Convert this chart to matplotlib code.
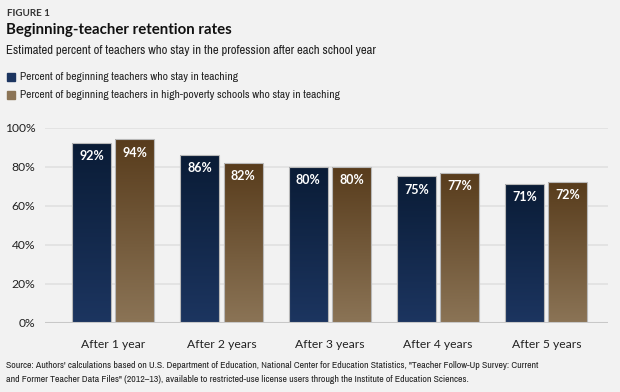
import numpy as np
import matplotlib.pyplot as plt
from matplotlib.colors import LinearSegmentedColormap
from matplotlib.patches import Rectangle

plt.rcParams['font.family'] = ['Lato', 'DejaVu Sans']
narrow = ['Archivo Narrow', 'Lato', 'DejaVu Sans']

# data
years = ["After 1 year", "After 2 years", "After 3 years", "After 4 years", "After 5 years"]
all_teachers = [92, 86, 80, 75, 71]
high_poverty = [94, 82, 80, 77, 72]
series_names = ["Percent of beginning teachers who stay in teaching",
                "Percent of beginning teachers in high-poverty schools who stay in teaching"]

bg = "#f2f2f2"
navy_cmap = LinearSegmentedColormap.from_list("navy", ["#1c3560", "#0a1c36"])
brown_cmap = LinearSegmentedColormap.from_list("brown", ["#8b7456", "#583c1c"])

fig = plt.figure(figsize=(6.2, 3.92), dpi=100, facecolor=bg)
ax = fig.add_axes([45 / 620, 1 - 322.7 / 392, (608 - 45) / 620, 195 / 392])
ax.set_facecolor(bg)

x = np.arange(len(years))
w = 0.36
off = 0.2
grad = np.linspace(0, 1, 256).reshape(-1, 1)

for vals, dx, cmap in [(all_teachers, -off, navy_cmap), (high_poverty, off, brown_cmap)]:
    bars = ax.bar(x + dx, vals, w, color="none", edgecolor="#b8b8b8", linewidth=0.8, zorder=3)
    for b, v in zip(bars, vals):
        x0 = b.get_x()
        im = ax.imshow(grad, cmap=cmap, extent=(x0, x0 + w, 0, v), origin="lower",
                       aspect="auto", zorder=2)
        im.set_clip_path(b)
        ax.annotate(f"{v}%", (b.get_x() + w / 2, v), xytext=(0, -9.5), textcoords="offset points",
                    ha="center", va="center", color="white", fontsize=9, fontweight="bold", zorder=4)

ax.set_xlim(-0.63, 4.57)
ax.set_ylim(0, 100)
ax.set_yticks(range(0, 101, 20))
ax.set_yticklabels([f"{t}%" for t in range(0, 101, 20)])
ax.set_xticks(x)
ax.set_xticklabels(years)
ax.tick_params(length=0, labelsize=8.7, colors="#222222")
ax.tick_params(axis="x", pad=12)
ax.tick_params(axis="y", pad=7)
ax.grid(axis="y", color="#e0e0e0", linewidth=1.2, zorder=0)
ax.axhline(0, color="#c8c8c8", linewidth=1.5, zorder=5)
for s in ax.spines.values():
    s.set_visible(False)

fig.text(7 / 620, 1 - 13 / 392, "FIGURE 1", fontsize=7, fontweight="bold", color="#333333", va="center")
fig.text(6 / 620, 1 - 30 / 392, "Beginning-teacher retention rates", fontsize=10.8, fontweight="bold",
         color="#111111", va="center")
fig.text(6 / 620, 1 - 50 / 392, "Estimated percent of teachers who stay in the profession after each school year",
         fontsize=9.2, color="#222222", va="center", family=narrow)
for i, (name, col) in enumerate(zip(series_names, ["#1c3560", "#8b7456"])):
    yc = 77 + 18 * i
    fig.patches.append(Rectangle((7 / 620, 1 - (yc + 4) / 392), 8 / 620, 8 / 392,
                                 transform=fig.transFigure, color=col))
    fig.text(20 / 620, 1 - yc / 392, name, fontsize=8.3, color="#222222", va="center", family=narrow)

fig.text(6 / 620, 1 - 366 / 392,
         "Source: Authors' calculations based on U.S. Department of Education, National Center for Education Statistics, \"Teacher Follow-Up Survey: Current",
         fontsize=7.05, color="#222222", va="center", family=narrow)
fig.text(6 / 620, 1 - 379 / 392,
         "and Former Teacher Data Files\" (2012\u201313), available to restricted-use license users through the Institute of Education Sciences.",
         fontsize=7.05, color="#222222", va="center", family=narrow)

fig.savefig("out.png", dpi=100, facecolor=bg)
